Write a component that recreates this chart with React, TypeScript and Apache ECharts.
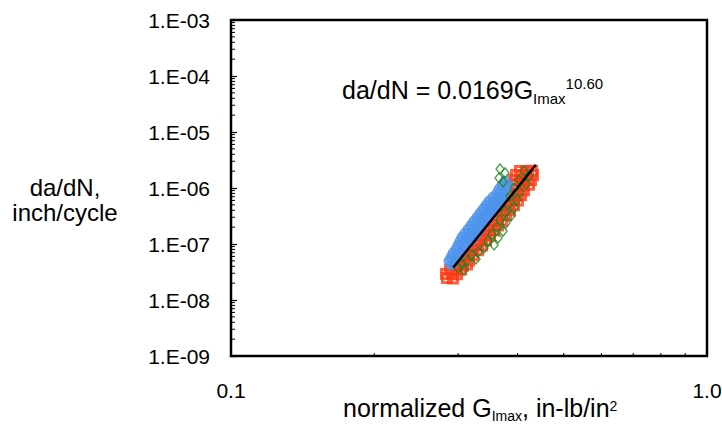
import React, { useEffect, useRef } from 'react';
import * as echarts from 'echarts';

const xTickLabels = ['0.1', '1.0'];
const yTickLabels = ['1.E-09', '1.E-08', '1.E-07', '1.E-06', '1.E-05', '1.E-04', '1.E-03'];

const redSquares: [number, number][] = [
  [0.2842, 2.47e-8], [0.2927, 2.42e-8],
  [0.2829, 2.91e-8], [0.2913, 2.95e-8], [0.2984, 2.88e-8],
  [0.2885, 3.43e-8], [0.2970, 3.38e-8], [0.3043, 3.5e-8],
  [0.2984, 4.21e-8], [0.3072, 4.15e-8], [0.3132, 4.3e-8],
  [0.3072, 5.2e-8], [0.3163, 5.1e-8],
  [0.3132, 6.4e-8], [0.3225, 6.3e-8],
  [0.3209, 7.8e-8], [0.3304, 7.7e-8],
  [0.3272, 9.6e-8], [0.3368, 9.4e-8],
  [0.3336, 1.18e-7], [0.3434, 1.16e-7],
  [0.3401, 1.44e-7], [0.3501, 1.42e-7],
  [0.3467, 1.78e-7], [0.3570, 1.75e-7],
  [0.3535, 2.18e-7], [0.3640, 2.15e-7],
  [0.3604, 2.68e-7], [0.3711, 2.64e-7],
  [0.3675, 3.29e-7], [0.3783, 3.25e-7],
  [0.3747, 4.04e-7], [0.3856, 3.98e-7],
  [0.3820, 4.96e-7], [0.3932, 4.9e-7],
  [0.3894, 6.1e-7], [0.4008, 6.0e-7],
  [0.3951, 7.49e-7], [0.4067, 7.4e-7],
  [0.4008, 9.2e-7], [0.4126, 9.1e-7],
  [0.3970, 1.13e-6], [0.4106, 1.12e-6], [0.4227, 1.14e-6],
  [0.3932, 1.39e-6], [0.4047, 1.37e-6], [0.4166, 1.4e-6], [0.4268, 1.38e-6],
  [0.3970, 1.71e-6], [0.4086, 1.69e-6], [0.4207, 1.73e-6], [0.4310, 1.7e-6],
  [0.4047, 2.02e-6], [0.4166, 2.0e-6], [0.4289, 2.04e-6],
];

const blueCircles: [number, number][] = [
  [0.2899, 4.21e-8],
  [0.2870, 4.96e-8], [0.2955, 4.9e-8],
  [0.2899, 5.85e-8], [0.2984, 5.8e-8],
  [0.2927, 6.9e-8], [0.3028, 6.8e-8],
  [0.2970, 8.1e-8], [0.3072, 8.0e-8],
  [0.2999, 9.6e-8], [0.3102, 9.5e-8],
  [0.3028, 1.13e-7], [0.3117, 1.12e-7], [0.3194, 1.14e-7],
  [0.3057, 1.33e-7], [0.3148, 1.32e-7], [0.3240, 1.34e-7],
  [0.3102, 1.57e-7], [0.3194, 1.55e-7], [0.3288, 1.58e-7],
  [0.3148, 1.85e-7], [0.3240, 1.83e-7], [0.3336, 1.86e-7],
  [0.3194, 2.18e-7], [0.3288, 2.16e-7], [0.3385, 2.2e-7],
  [0.3240, 2.57e-7], [0.3336, 2.55e-7], [0.3434, 2.59e-7],
  [0.3288, 3.03e-7], [0.3385, 3.0e-7], [0.3484, 3.05e-7],
  [0.3336, 3.57e-7], [0.3434, 3.54e-7], [0.3535, 3.6e-7],
  [0.3385, 4.21e-7], [0.3484, 4.17e-7], [0.3587, 4.24e-7],
  [0.3434, 4.96e-7], [0.3535, 4.92e-7], [0.3640, 5.0e-7],
  [0.3484, 5.85e-7], [0.3587, 5.8e-7], [0.3693, 5.9e-7],
  [0.3552, 6.9e-7], [0.3657, 6.85e-7], [0.3747, 6.95e-7],
  [0.3622, 8.13e-7], [0.3729, 8.1e-7],
  [0.3657, 9.59e-7], [0.3783, 9.5e-7],
  [0.3711, 1.13e-6], [0.3820, 1.12e-6],
  [0.3764, 1.33e-6],
];

const greenDiamonds: [number, number][] = [
  [0.3675, 2.19e-6], [0.3764, 1.86e-6], [0.3657, 1.51e-6], [0.3729, 1.28e-6],
  [0.4126, 2.02e-6], [0.4227, 1.64e-6], [0.4028, 1.39e-6], [0.4166, 1.18e-6],
  [0.3932, 1.0e-6], [0.4047, 8.47e-7], [0.3856, 7.19e-7], [0.3989, 6.1e-7],
  [0.3820, 5.17e-7], [0.3932, 4.39e-7], [0.3764, 3.72e-7], [0.3875, 3.16e-7],
  [0.3675, 2.68e-7], [0.3783, 2.37e-7], [0.3622, 2.01e-7], [0.3729, 1.7e-7],
  [0.3535, 1.5e-7], [0.3640, 1.28e-7], [0.3467, 1.13e-7], [0.3570, 9.6e-8],
  [0.3401, 8.5e-8], [0.3304, 7.2e-8], [0.3209, 6.4e-8], [0.3272, 5.4e-8],
  [0.3132, 4.96e-8], [0.3057, 4.39e-8], [0.2999, 3.72e-8], [0.3087, 3.43e-8],
];

const fitLine: [number, number][] = [
  [0.293, 3.8e-8],
  [0.437, 2.6e-6],
];

const minorMantissas = [2, 3, 4, 5, 6, 7, 8, 9];
const yDecades = [1e-9, 1e-8, 1e-7, 1e-6, 1e-5, 1e-4];
const xDecades = [0.1];

const X_MIN = 0.1;
const X_MAX = 1;
const Y_MIN = 1e-9;
const Y_MAX = 1e-3;

const FONT = "'Liberation Sans', Arial, Helvetica, sans-serif";

export default function App() {
  const ref = useRef<HTMLDivElement>(null);

  useEffect(() => {
    document.body.style.margin = '0';
    const chart = echarts.init(ref.current!, undefined, { renderer: 'svg' });

    const yMinor: [number, number][] = [];
    yDecades.forEach((d) => minorMantissas.forEach((m) => yMinor.push([X_MIN, d * m])));
    const xMinor: [number, number][] = [];
    xDecades.forEach((d) => minorMantissas.forEach((m) => xMinor.push([d * m, Y_MIN])));

    chart.setOption({
      animation: false,
      backgroundColor: '#ffffff',
      grid: {
        left: 231,
        right: 15,
        top: 20,
        bottom: 68,
        show: true,
        borderColor: '#000',
        borderWidth: 2.5,
        backgroundColor: 'transparent',
        containLabel: false,
        outerBoundsMode: 'none',
      },
      xAxis: {
        type: 'log',
        logBase: 10,
        min: X_MIN,
        max: X_MAX,
        axisLine: { show: false },
        axisTick: { show: false },
        splitLine: { show: false },
        axisLabel: {
          color: '#000',
          fontSize: 21,
          fontFamily: FONT,
          margin: 24,
          formatter: (v: number) => xTickLabels[Math.round(Math.log10(v)) + 1] ?? '',
        },
      },
      yAxis: {
        type: 'log',
        logBase: 10,
        min: Y_MIN,
        max: Y_MAX,
        splitNumber: 6,
        axisLine: { show: false },
        axisTick: { show: true, inside: true, length: 6, lineStyle: { color: '#000', width: 1.2 } },
        splitLine: { show: false },
        axisLabel: {
          color: '#000',
          fontSize: 21,
          fontFamily: FONT,
          margin: 21,
          formatter: (v: number) => yTickLabels[Math.round(Math.log10(v)) + 9] ?? '',
        },
      },
      graphic: [
        {
          type: 'text',
          x: 65,
          y: 200,
          style: {
            text: 'da/dN,\ninch/cycle',
            fill: '#000',
            fontSize: 24,
            fontFamily: FONT,
            lineHeight: 25,
            align: 'center',
            verticalAlign: 'middle',
          },
        },
        {
          type: 'text',
          x: 342,
          y: 89.6,
          style: {
            text: '{a|da/dN = 0.0169G}{b|Imax}{c|10.60}',
            fill: '#000',
            align: 'left',
            verticalAlign: 'middle',
            rich: {
              a: { fontSize: 25, fontFamily: FONT, fill: '#000', lineHeight: 40 },
              b: { fontSize: 15, fontFamily: FONT, fill: '#000', height: 23, verticalAlign: 'bottom' },
              c: { fontSize: 15, fontFamily: FONT, fill: '#000', height: 27, verticalAlign: 'top' },
            },
          },
        },
        {
          type: 'text',
          x: 343,
          y: 407.5,
          style: {
            text: '{a|normalized G}{b|Imax}{a|, in-lb/in}{c|2}',
            fill: '#000',
            align: 'left',
            verticalAlign: 'middle',
            rich: {
              a: { fontSize: 25, fontFamily: FONT, fill: '#000', lineHeight: 30 },
              b: { fontSize: 14, fontFamily: FONT, fill: '#000', height: 13, verticalAlign: 'bottom' },
              c: { fontSize: 14, fontFamily: FONT, fill: '#000', height: 26, verticalAlign: 'top' },
            },
          },
        },
      ],
      series: [
        {
          type: 'custom',
          silent: true,
          renderItem: (_p: any, api: any) => {
            const pt = api.coord([api.value(0), api.value(1)]);
            return {
              type: 'line',
              shape: { x1: pt[0], y1: pt[1], x2: pt[0] + 4, y2: pt[1] },
              style: { stroke: '#000', lineWidth: 1 },
            };
          },
          data: yMinor,
          z: 1,
        },
        {
          type: 'custom',
          silent: true,
          renderItem: (_p: any, api: any) => {
            const pt = api.coord([api.value(0), api.value(1)]);
            return {
              type: 'line',
              shape: { x1: pt[0], y1: pt[1], x2: pt[0], y2: pt[1] - 3 },
              style: { stroke: '#000', lineWidth: 1 },
            };
          },
          data: xMinor,
          z: 1,
        },
        {
          type: 'scatter',
          symbol: 'rect',
          symbolSize: 9,
          itemStyle: { color: 'rgba(255,255,255,0)', borderColor: '#FF3A17', borderWidth: 3 },
          data: redSquares,
          z: 2,
        },
        {
          type: 'scatter',
          symbol: 'circle',
          symbolSize: 10,
          itemStyle: { color: '#5096EE', borderColor: '#4A8FE8', borderWidth: 1 },
          data: blueCircles,
          z: 3,
        },
        {
          type: 'scatter',
          symbol: 'diamond',
          symbolSize: [8, 10],
          itemStyle: { color: 'rgba(255,255,255,0)', borderColor: '#1E861E', borderWidth: 1.4 },
          data: greenDiamonds,
          z: 4,
        },
        {
          type: 'line',
          data: fitLine,
          showSymbol: false,
          symbol: 'none',
          lineStyle: { color: '#000', width: 2.5 },
          z: 5,
        },
      ],
    });

    return () => chart.dispose();
  }, []);

  return <div ref={ref} style={{ width: 722, height: 424, background: '#fff' }} />;
}
